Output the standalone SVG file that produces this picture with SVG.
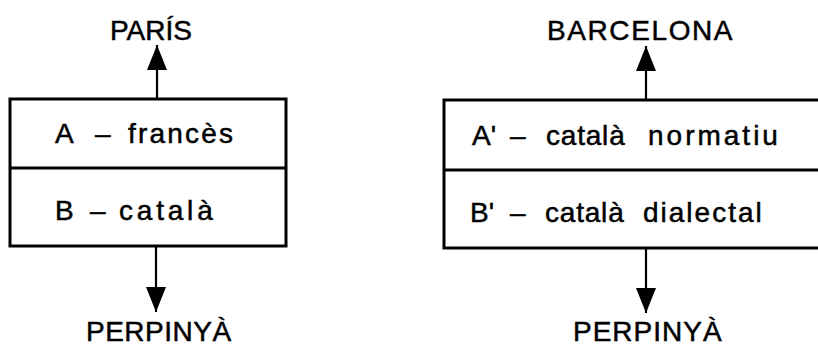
<svg xmlns="http://www.w3.org/2000/svg" width="818" height="348" viewBox="0 0 818 348">
<style>
.box{fill:none;stroke:#000;stroke-width:3}
.div{stroke:#000;stroke-width:3}
.con{stroke:#000;stroke-width:2.2;fill:none}
text{font-family:"Liberation Sans",Arial,sans-serif;font-size:28px;fill:#000;stroke:#000;stroke-width:0.5}
</style>
<defs>
<marker id="ah" viewBox="0 0 25 20" markerWidth="25" markerHeight="20" refX="25" refY="10" markerUnits="userSpaceOnUse" orient="auto">
<path d="M0,0 L25,10 L0,20 z" fill="#000"/>
</marker>
</defs>
<rect width="818" height="348" fill="#fff"/>
<g id="node-paris"><text x="110" y="40" letter-spacing="0">PARÍS</text></g>
<g id="node-barcelona"><text x="547" y="40" letter-spacing="1.6">BARCELONA</text></g>
<g id="node-perpinya-left"><text x="86" y="341" letter-spacing="0.5">PERPINYÀ</text></g>
<g id="node-perpinya-right"><text x="573" y="341" letter-spacing="1">PERPINYÀ</text></g>
<g id="node-left-box">
<rect class="box" x="10" y="99" width="276" height="147"/>
<line class="div" x1="10" y1="168" x2="286" y2="168"/>
<text y="143"><tspan x="55">A </tspan><tspan x="95">– </tspan><tspan x="128" letter-spacing="2.2">francès</tspan></text>
<text y="220"><tspan x="55">B </tspan><tspan x="90">– </tspan><tspan x="119" letter-spacing="3.8">català</tspan></text>
</g>
<g id="node-right-box">
<rect class="box" x="444" y="100" width="400" height="148"/>
<line class="div" x1="444" y1="170" x2="818" y2="170"/>
<text y="145"><tspan x="472">A' </tspan><tspan x="510">– </tspan><tspan x="546" letter-spacing="0.8">català </tspan><tspan x="648" letter-spacing="3">normatiu</tspan></text>
<text y="222"><tspan x="470">B' </tspan><tspan x="510">– </tspan><tspan x="545" letter-spacing="0.8">català </tspan><tspan x="643" letter-spacing="2">dialectal</tspan></text>
</g>
<g id="connectors">
<line class="con" x1="157" y1="99" x2="157" y2="45" marker-end="url(#ah)"/>
<line class="con" x1="156" y1="246" x2="156" y2="312" marker-end="url(#ah)"/>
<line class="con" x1="646" y1="100" x2="646" y2="46" marker-end="url(#ah)"/>
<line class="con" x1="646" y1="248" x2="646" y2="313" marker-end="url(#ah)"/>
</g>
</svg>
